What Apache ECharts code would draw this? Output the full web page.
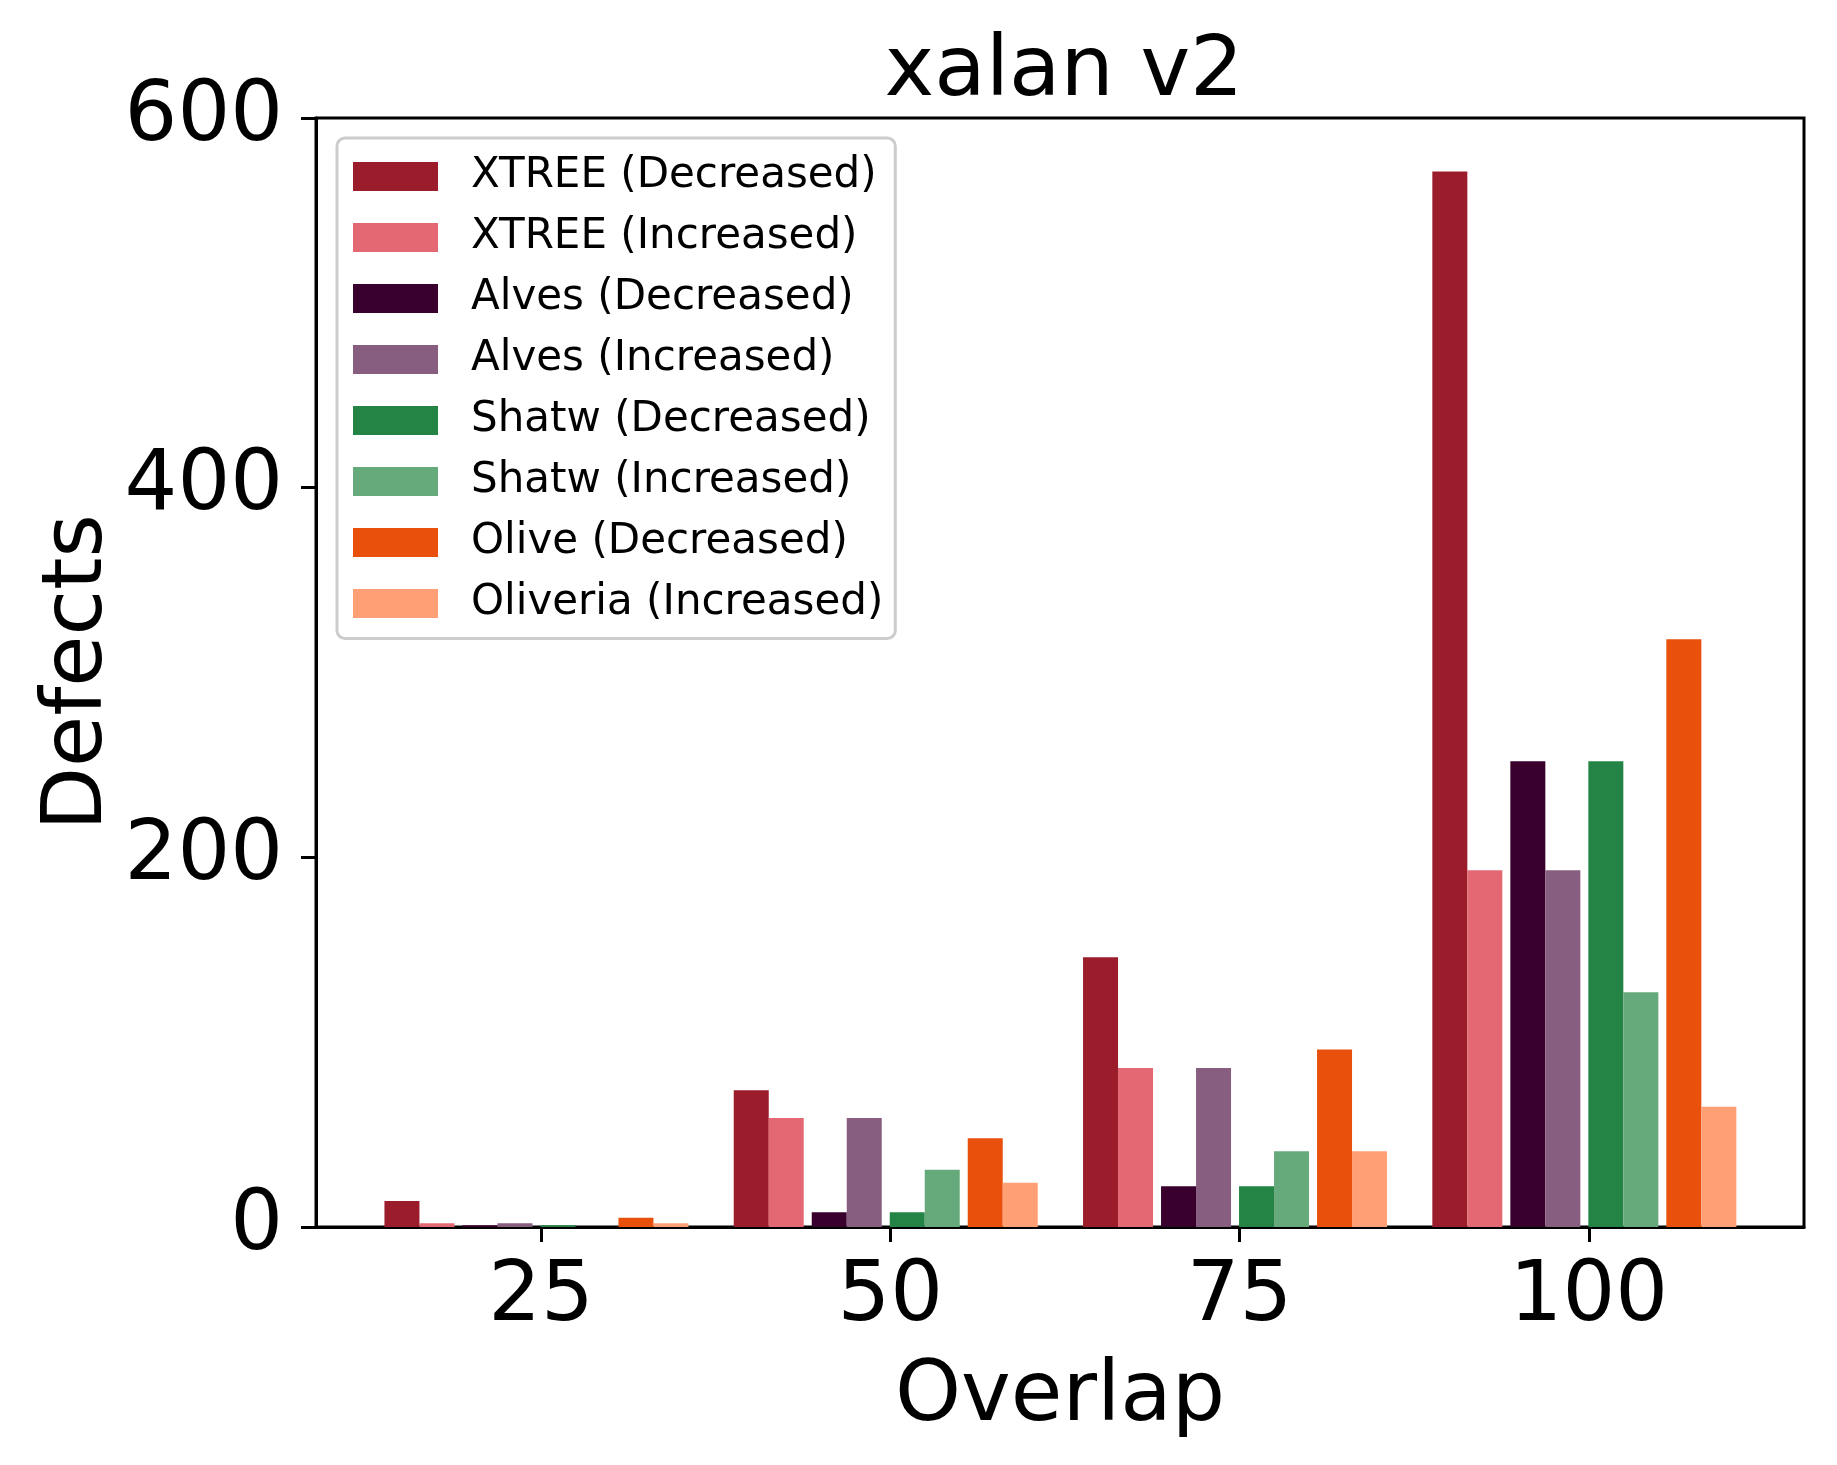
<!DOCTYPE html>
<html>
<head>
<meta charset="utf-8">
<title>xalan v2</title>
<script src="https://cdn.jsdelivr.net/npm/echarts@6/dist/echarts.min.js"></script>
<style>
  html, body { margin: 0; padding: 0; background: #fff; }
  #main { width: 1837px; height: 1465px; }
</style>
</head>
<body>
<div id="main"></div>
<script>
// Chart data
var overlap = [25, 50, 75, 100];
var xtreeDec = [14, 74, 146, 571];
var xtreeInc = [2, 59, 86, 193];
var alvesDec = [1, 8, 22, 252];
var alvesInc = [2, 59, 86, 193];
var shatwDec = [1, 8, 22, 252];
var shatwInc = [0, 31, 41, 127];
var oliveDec = [5, 48, 96, 318];
var oliveriaInc = [2, 24, 41, 65];
var yTicks = [0, 200, 400, 600];

var font = 'DejaVu Sans';
var chartDom = document.getElementById('main');
var myChart = echarts.init(chartDom);

function pairs(vals) {
  return overlap.map(function (x, i) { return [x, vals[i]]; });
}

// Real bar series
function barSeries(name, vals, color) {
  return {
    name: name,
    type: 'bar',
    barWidth: 35,
    barGap: '0%',
    itemStyle: { color: color },
    data: pairs(vals)
  };
}

// Empty series, only leaves a small gap between the pairs
var spacerCount = 0;
function spacer(w) {
  spacerCount++;
  return {
    name: 'spacer' + spacerCount,
    type: 'bar',
    barWidth: w,
    barGap: '0%',
    silent: true,
    itemStyle: { opacity: 0 },
    data: pairs(overlap.map(function () { return 0; }))
  };
}

var legendNames = [
  'XTREE (Decreased)', 'XTREE (Increased)',
  'Alves (Decreased)', 'Alves (Increased)',
  'Shatw (Decreased)', 'Shatw (Increased)',
  'Olive (Decreased)', 'Oliveria (Increased)'
];

var option = {
  animation: false,
  backgroundColor: '#ffffff',
  textStyle: { fontFamily: font },
  title: {
    text: 'xalan v2',
    left: 1059,
    top: 26,
    textAlign: 'center',
    textStyle: { fontFamily: font, fontSize: 84, fontWeight: 'normal', color: '#000' }
  },
  grid: {
    left: 316,
    right: 33,
    top: 118,
    bottom: 238,
    show: true,
    borderColor: '#000',
    borderWidth: 3,
    outerBoundsMode: 'none'
  },
  legend: {
    orient: 'vertical',
    left: 337,
    top: 138,
    padding: [17.5, 12, 14, 16],
    itemWidth: 85,
    itemHeight: 29,
    itemGap: 19,
    icon: 'rect',
    borderColor: '#cccccc',
    borderWidth: 3,
    borderRadius: 8,
    backgroundColor: 'rgba(255,255,255,0.8)',
    data: legendNames,
    textStyle: {
      fontFamily: font,
      fontSize: 42,
      color: '#000',
      padding: [0, 0, 0, 28]
    }
  },
  xAxis: {
    type: 'value',
    min: 8.9,
    max: 115.4,
    name: 'Overlap',
    nameLocation: 'middle',
    nameGap: 129,
    nameTextStyle: { fontFamily: font, fontSize: 84, color: '#000' },
    splitLine: { show: false },
    axisLine: { show: true, lineStyle: { color: '#000', width: 3 } },
    axisTick: { show: true, length: 15, lineStyle: { color: '#000', width: 3 }, customValues: overlap },
    axisLabel: { fontFamily: font, fontSize: 83, color: '#000', margin: 30, customValues: overlap }
  },
  yAxis: {
    type: 'value',
    min: 0,
    max: 600,
    interval: 200,
    name: 'Defects',
    nameLocation: 'middle',
    nameGap: 195,
    nameMoveOverlap: false,
    nameTextStyle: { fontFamily: font, fontSize: 83, color: '#000' },
    splitLine: { show: false },
    axisLine: { show: true, lineStyle: { color: '#000', width: 3 } },
    axisTick: { show: true, length: 15, lineStyle: { color: '#000', width: 3 }, customValues: yTicks },
    axisLabel: { fontFamily: font, fontSize: 83, color: '#000', margin: 33, customValues: yTicks }
  },
  series: [
    barSeries('XTREE (Decreased)', xtreeDec, '#9b1c2b'),
    barSeries('XTREE (Increased)', xtreeInc, '#e36874'),
    spacer(8),
    barSeries('Alves (Decreased)', alvesDec, '#39002e'),
    barSeries('Alves (Increased)', alvesInc, '#875d80'),
    spacer(8),
    barSeries('Shatw (Decreased)', shatwDec, '#238445'),
    barSeries('Shatw (Increased)', shatwInc, '#66aa7b'),
    spacer(8),
    barSeries('Olive (Decreased)', oliveDec, '#e8500c'),
    barSeries('Oliveria (Increased)', oliveriaInc, '#ff9f75'),
    spacer(9)
  ]
};

myChart.setOption(option);
</script>
</body>
</html>
